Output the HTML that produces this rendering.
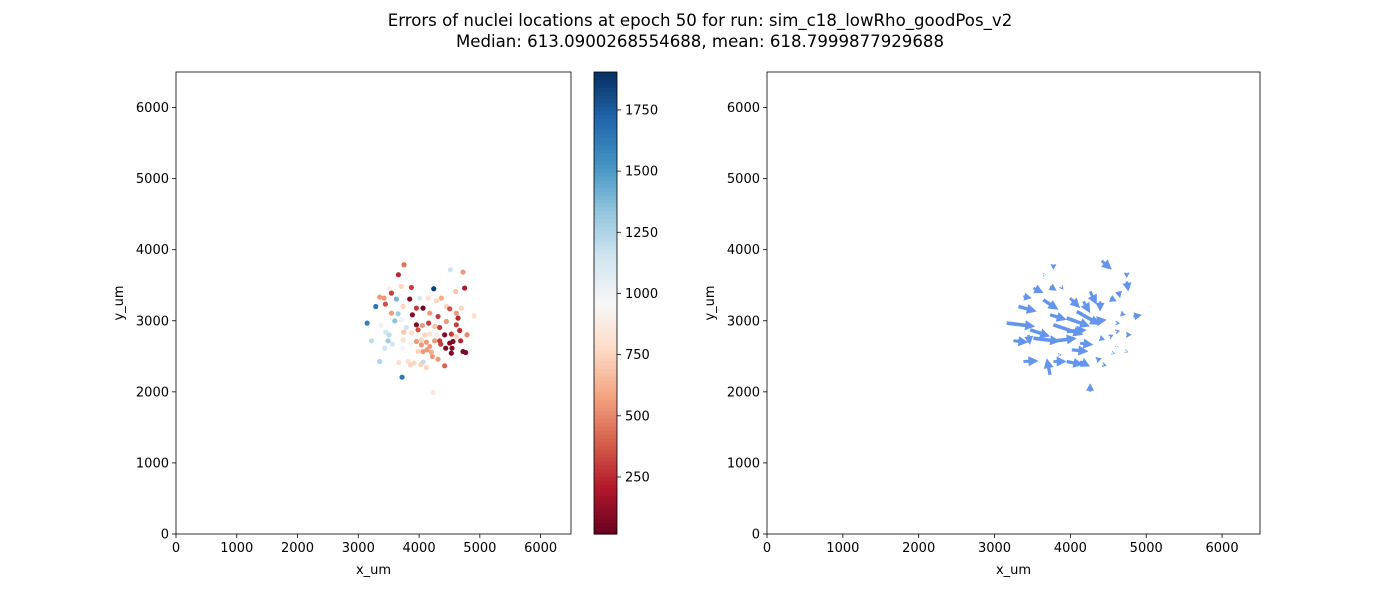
<!DOCTYPE html>
<html><head><meta charset="utf-8">
<style>
body{margin:0;background:#fff;}
svg{display:block;font-family:"DejaVu Sans","Liberation Sans",sans-serif;}
</style></head>
<body>
<svg id="fig" width="1400" height="600" xmlns="http://www.w3.org/2000/svg">
<rect width="1400" height="600" fill="#fff"/>
<text x="700" y="26" text-anchor="middle" font-size="16.6">Errors of nuclei locations at epoch 50 for run: sim_c18_lowRho_goodPos_v2</text>
<text x="700" y="47" text-anchor="middle" font-size="16.6">Median: 613.0900268554688, mean: 618.7999877929688</text>
<g id="left"></g>
<g id="cbar"></g>
<g id="right"></g>
</svg>
<script>
const ticks = [0,1000,2000,3000,4000,5000,6000];
const cbTicks = [250,500,750,1000,1250,1500,1750];
const vmin = 17, vmax = 1905;
const px = [3753,3660,4515,4723,4750,4241,3709,3507,3874,3545,3353,3424,3627,3846,3287,3446,3737,4011,4148,4367,4602,4285,4202,4065,3956,4449,4504,4696,3545,3654,3890,4175,4312,4613,4641,4904,3600,3709,3145,3370,3791,3956,4054,4158,4257,4339,4449,4613,4668,4789,3452,3507,3748,3874,3983,4093,4175,4296,4421,4531,4613,3216,3490,3737,3956,4038,4120,4257,4339,4504,4558,4684,3561,3863,4038,4175,4356,4438,4542,3435,3726,4065,4131,4202,3983,4723,4767,4531,4219,4312,3353,3665,3819,3917,4065,3857,4027,4120,4421,3720,4230];
const py = [3788,3647,3718,3685,3460,3450,3483,3450,3469,3389,3333,3319,3305,3305,3201,3234,3201,3319,3319,3319,3413,3281,3375,3178,3178,3201,3168,3178,3107,3098,3084,3107,3060,3107,3037,3070,2999,3013,2967,2934,2905,2943,2934,2967,2920,2905,2990,2943,2863,2802,2840,2802,2840,2826,2873,2802,2812,2802,2802,2812,2779,2718,2718,2732,2708,2732,2699,2718,2718,2685,2708,2718,2671,2671,2661,2638,2671,2614,2614,2614,2614,2567,2591,2558,2567,2567,2553,2544,2497,2459,2427,2412,2427,2403,2417,2380,2380,2342,2366,2206,1990];
const perr = [450,250,1150,550,200,1850,750,900,300,300,550,550,1400,100,1650,350,750,1100,800,600,700,750,950,50,300,750,350,750,550,1300,100,550,300,550,250,800,1350,1000,1600,1000,1150,100,550,300,700,300,550,300,250,500,1150,1200,700,800,350,750,800,900,80,300,750,1200,1300,800,550,750,550,550,300,80,80,250,1150,950,550,550,300,80,100,1150,950,550,550,600,750,50,80,80,550,550,1250,800,800,750,1200,750,750,750,400,1650,850];
const ax = [4414,3776,3666,4743,4743,3513,3732,3886,3381,3644,3315,3732,3161,4260,3996,4524,4634,4831,4699,4172,3469,3249,3447,3513,3776,3952,4392,4084,4304,3732,4018,3381,3732,3776,3864,3952,4128,4260,4348,4436,4524,4612,4743,4612,4568,4743,4392,4128,3952,4612];
const ay = [3844,3788,3647,3671,3553,3460,3483,3469,3342,3295,3201,3084,2967,3413,3319,3319,3413,3060,3107,3272,2873,2718,2802,2755,2943,3037,3272,3131,2990,2708,2591,2427,2239,2427,2520,2427,2427,2004,2450,2380,2779,2849,2802,2614,2544,2567,2755,2685,2849,2967];
const au = [132,0,13,0,22,132,88,22,110,198,242,220,374,88,132,88,22,110,-44,88,264,198,22,352,396,308,0,308,176,352,220,198,-44,176,22,220,132,0,66,44,44,44,66,0,22,22,66,176,264,44];
const av = [-127,-70,0,-70,-141,-70,-61,-33,-23,-141,-70,-70,-47,-188,-141,-47,-94,23,-47,-164,-94,-19,-141,-47,-141,-117,-141,-188,23,47,-23,9,235,0,0,-47,-70,117,23,-14,23,9,0,-9,-5,-9,-23,-23,23,0];

const NS="http://www.w3.org/2000/svg";
function mk(tag, attrs, parent){const e=document.createElementNS(NS,tag);for(const k in attrs)e.setAttribute(k,attrs[k]);parent.appendChild(e);return e;}
const rdbu=["#67001f","#b2182b","#d6604d","#f4a582","#fddbc7","#f7f7f7","#d1e5f0","#92c5de","#4393c3","#2166ac","#053061"];
function hex(h){return [1,3,5].map(i=>parseInt(h.substr(i,2),16));}
function cmap(t){t=Math.max(0,Math.min(1,t));const f=t*10,i=Math.min(9,Math.floor(f)),r=f-i;const a=hex(rdbu[i]),b=hex(rdbu[i+1]);return "rgb("+a.map((v,k)=>Math.round(v+(b[k]-v)*r)).join(",")+")";}

const yTop=72,yBot=534;
function panel(g,x0,x1,name){
  const sx=v=>x0+(x1-x0)*v/6500, sy=v=>yBot-(yBot-yTop)*v/6500;
  ticks.forEach(t=>{
    const l=mk('line',{x1:sx(t),x2:sx(t),y1:yBot,y2:yBot+4,stroke:'#000','stroke-width':0.8},g);
    
    
    const tx=mk('text',{x:sx(t),y:yBot+18,'text-anchor':'middle','font-size':13},g);tx.textContent=t;
    
    
    const l2=mk('line',{x1:x0-4,x2:x0,y1:sy(t),y2:sy(t),stroke:'#000','stroke-width':0.8},g);
    
    
    const ty=mk('text',{x:x0-7,y:sy(t)+4.5,'text-anchor':'end','font-size':13},g);ty.textContent=t;
    
    
  });
  const xl=mk('text',{x:(x0+x1)/2,y:574,'text-anchor':'middle','font-size':13},g);xl.textContent='x_um';
  
  
  const yl=mk('text',{x:0,y:0,'text-anchor':'middle','font-size':13,transform:`translate(${x0-53},${(yTop+yBot)/2}) rotate(-90)`},g);yl.textContent='y_um';
  
  
  return {sx,sy,frame:()=>{const r=mk('rect',{x:x0,y:yTop,width:x1-x0,height:yBot-yTop,fill:'none',stroke:'#000','stroke-width':0.8},g);
    
    }};
}
const L=document.getElementById('left');
const pl=panel(L,176,571,'scatter');
for(let i=0;i<px.length;i++){
  const c=mk('circle',{cx:pl.sx(px[i]),cy:pl.sy(py[i]),r:2.6,fill:cmap((perr[i]-vmin)/(vmax-vmin))},L);
  
  
}
pl.frame();

const C=document.getElementById('cbar');
const cx0=594,cx1=617,cy=v=>yBot-(yBot-yTop)*(v-vmin)/(vmax-vmin);
const N=120;
for(let k=0;k<N;k++){
  const y0=yBot-(yBot-yTop)*k/N, y1=yBot-(yBot-yTop)*(k+1)/N;
  const r=mk('rect',{x:cx0,y:y1,width:cx1-cx0,height:y0-y1+0.6,fill:cmap((k+0.5)/N)},C);
  
  
}
mk('rect',{x:cx0,y:yTop,width:cx1-cx0,height:yBot-yTop,fill:'none',stroke:'#000','stroke-width':0.8},C);
cbTicks.forEach(t=>{
  const l=mk('line',{x1:cx1,x2:cx1+4,y1:cy(t),y2:cy(t),stroke:'#000','stroke-width':0.8},C);
  
  
  const tx=mk('text',{x:cx1+8,y:cy(t)+4.5,'font-size':13},C);tx.textContent=t;
  
  
});

const R=document.getElementById('right');
const pr=panel(R,767,1260,'quiver');
for(let i=0;i<ax.length;i++){
  const x0=pr.sx(ax[i]),y0=pr.sy(ay[i]);
  const x1=pr.sx(ax[i]+au[i]),y1=pr.sy(ay[i]+av[i]);
  const dx=x1-x0,dy=y1-y0,len=Math.hypot(dx,dy)||0.01;
  const ux=dx/len,uy=dy/len,nx=-uy,ny=ux;
  const hl=Math.min(10,len*0.6+2.5),hw=Math.min(5,1.5+len*0.3),sw=Math.min(1.8,0.6+len*0.06);
  const bx=x1-ux*hl,by=y1-uy*hl;
  const pts=[[x0+nx*sw,y0+ny*sw],[bx+nx*sw,by+ny*sw],[bx+nx*hw,by+ny*hw],[x1,y1],[bx-nx*hw,by-ny*hw],[bx-nx*sw,by-ny*sw],[x0-nx*sw,y0-ny*sw]];
  const p=mk('polygon',{points:pts.map(q=>q[0].toFixed(1)+','+q[1].toFixed(1)).join(' '),fill:'#6495ed'},R);
  
  
}
pr.frame();
</script>
</body></html>
